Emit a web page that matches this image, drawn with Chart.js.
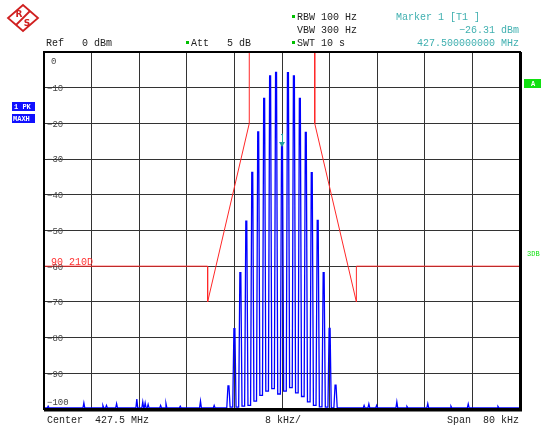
<!DOCTYPE html>
<html>
<head>
<meta charset="utf-8">
<script src="https://cdn.jsdelivr.net/npm/chart.js@4/dist/chart.umd.min.js"></script>
<style>
  html, body { margin: 0; padding: 0; background: #fff; }
  #spec { display: block; }
</style>
</head>
<body>
<canvas id="spec" width="541" height="429"></canvas>
<script>
// offsets from 427.5 MHz in kHz, levels in dBm
const lineOffsets = [-9, -8, -7, -6, -5, -4, -3, -2, -1, 0, 1, 2, 3, 4, 5, 6, 7, 8, 9];
const lineLevels = [-93.5, -77.5, -61.8, -47.4, -33.7, -22.4, -13.0, -6.7, -5.7, -26.31,
                    -5.8, -6.7, -13.0, -22.5, -33.8, -47.2, -61.8, -77.4, -93.3];
// trace level in the gaps beside each line (one more than lines)
const dipLevels = [-99.7, -99.5, -99.5, -99.2, -99, -97.8, -96.2, -95, -94.3, -95.8,
                   -95, -94, -95.5, -96.5, -98, -99, -99.4, -99.5, -99.7, -99.7];
// small spurs on the noise floor
const spurOffsets = [-39.3, -33.3, -30.1, -29.5, -27.8, -24.4, -23.4, -23.0, -22.5, -20.4, -19.5, -17.1, -13.7, -11.4,
                     13.8, 14.6, 15.9, 19.3, 21.0, 24.5, 28.4, 31.3, 36.3];
const spurLevels = [-99.2, -98.3, -99, -99, -98.5, -97.2, -98, -98.3, -98.7, -99, -98.5, -99.2, -97.8, -99,
                    -99, -98.6, -99, -98, -99.3, -98.5, -99.2, -98.6, -99.3];
const noiseFloor = -99.7;

// limit line
const maskOffsets = [-40, -12.5, -12.5, -5.5, -5.5, 5.5, 5.5, 12.5, 12.5, 40];
const maskLevels = [-60, -60, -70, -20, 0, 0, -20, -70, -60, -60];

const markerOffset = 0;
const markerLevel = -26.31;

// build the trace
const trace = [{ x: -40, y: noiseFloor }, { x: 40, y: noiseFloor }];
spurOffsets.forEach((f, i) => {
  trace.push({ x: f - 0.15, y: noiseFloor }, { x: f, y: spurLevels[i] }, { x: f + 0.15, y: noiseFloor });
});
lineOffsets.forEach((f, i) => {
  trace.push({ x: f - 0.28, y: dipLevels[i] }, { x: f - 0.08, y: lineLevels[i] },
             { x: f + 0.08, y: lineLevels[i] }, { x: f + 0.28, y: dipLevels[i + 1] });
});
trace.push({ x: lineOffsets[0] - 0.5, y: noiseFloor }, { x: lineOffsets[lineOffsets.length - 1] + 0.5, y: noiseFloor });
trace.sort((a, b) => a.x - b.x);

const mask = maskOffsets.map((f, i) => ({ x: f, y: maskLevels[i] }));

const MONO = '"Liberation Mono", "DejaVu Sans Mono", monospace';

const decor = {
  id: 'decor',
  afterDatasetsDraw(chart) {
    const ctx = chart.ctx;
    const a = chart.chartArea;
    const xs = chart.scales.x, ys = chart.scales.y;
    ctx.save();

    // frame
    ctx.strokeStyle = '#000';
    ctx.lineWidth = 2;
    ctx.strokeRect(a.left, a.top, a.right - a.left, a.bottom - a.top);
    ctx.lineWidth = 3;
    ctx.beginPath();
    ctx.moveTo(a.right + 0.5, a.top);
    ctx.lineTo(a.right + 0.5, a.bottom + 1);
    ctx.lineTo(a.left, a.bottom + 1);
    ctx.stroke();

    // level labels inside the grid
    ctx.font = '9px ' + MONO;
    ctx.fillStyle = '#444';
    ctx.textBaseline = 'middle';
    ctx.textAlign = 'left';
    ys.ticks.forEach(t => {
      const y = ys.getPixelForValue(t.value);
      if (t.value === 0) {
        ctx.fillText('0', a.left + 7, y + 10);
      } else if (t.value === -100) {
        ctx.fillText('\u2212100', a.left + 3, y - 6);
      } else {
        ctx.fillText('\u2212' + Math.abs(t.value), a.left + 3, y + 1);
      }
    });

    // limit line name
    ctx.font = '10px ' + MONO;
    ctx.fillStyle = '#ff3030';
    ctx.textBaseline = 'alphabetic';
    ctx.fillText('90 210D', a.left + 7, ys.getPixelForValue(-60) - 1);

    // marker 1
    const mx = xs.getPixelForValue(markerOffset), my = ys.getPixelForValue(markerLevel);
    ctx.fillStyle = '#20a0a0';
    ctx.strokeStyle = '#20a0a0';
    ctx.lineWidth = 1;
    ctx.beginPath();
    ctx.moveTo(mx - 3, my - 4);
    ctx.lineTo(mx + 3, my - 4);
    ctx.lineTo(mx, my + 1);
    ctx.closePath();
    ctx.fill();
    ctx.beginPath();
    ctx.moveTo(mx + 0.5, my - 12);
    ctx.lineTo(mx + 0.5, my - 4);
    ctx.moveTo(mx - 1, my - 11);
    ctx.lineTo(mx + 0.5, my - 12);
    ctx.stroke();
    ctx.restore();
  },
  afterDraw(chart) {
    const ctx = chart.ctx;
    ctx.save();
    ctx.textBaseline = 'middle';
    ctx.font = '10px ' + MONO;

    const txt = (s, x, y, color, align) => {
      ctx.fillStyle = color;
      ctx.textAlign = align || 'left';
      ctx.fillText(s, x, y);
    };
    const star = (x, y) => {
      ctx.fillStyle = '#00c000';
      ctx.fillRect(x, y - 2, 3, 3);
    };

    // header
    star(292, 17);
    txt('RBW 100 Hz', 297, 17, '#222');
    txt('VBW 300 Hz', 297, 30, '#222');
    star(292, 43);
    txt('SWT 10 s', 297, 43, '#222');
    txt('Ref   0 dBm', 46, 43, '#222');
    star(186, 43);
    txt('Att   5 dB', 191, 43, '#222');
    txt('Marker 1 [T1 ]', 396, 17, '#40b0b0');
    txt('\u221226.31 dBm', 519, 30, '#40b0b0', 'right');
    txt('427.500000000 MHz', 519, 43, '#40b0b0', 'right');

    // footer
    txt('Center  427.5 MHz', 47, 420, '#222');
    txt('8 kHz/', 283, 420, '#222', 'center');
    txt('Span  80 kHz', 519, 420, '#222', 'right');

    // side labels
    ctx.font = 'bold 7px ' + MONO;
    ctx.fillStyle = '#1010ff';
    ctx.fillRect(12, 102, 23, 9);
    ctx.fillRect(12, 114, 23, 9);
    txt('1 PK', 14, 107, '#fff');
    txt('MAXH', 13, 119, '#fff');
    ctx.fillStyle = '#10e010';
    ctx.fillRect(524, 79, 17, 9);
    txt('A', 533, 84, '#fff', 'center');
    ctx.font = '7px ' + MONO;
    txt('3DB', 527, 254, '#10e010');

    // logo
    ctx.translate(23, 18);
    ctx.strokeStyle = '#d02020';
    ctx.lineWidth = 1.8;
    ctx.beginPath();
    ctx.moveTo(0, -13);
    ctx.lineTo(15, 0);
    ctx.lineTo(0, 13);
    ctx.lineTo(-15, 0);
    ctx.closePath();
    ctx.stroke();
    ctx.beginPath();
    ctx.moveTo(7, -7);
    ctx.lineTo(-7, 7);
    ctx.stroke();
    ctx.fillStyle = '#d02020';
    ctx.font = 'bold 9px "DejaVu Sans", sans-serif';
    ctx.textAlign = 'center';
    ctx.fillText('R', -4, -3);
    ctx.fillText('S', 4, 6);
    ctx.restore();
  }
};

new Chart(document.getElementById('spec'), {
  type: 'line',
  data: {
    datasets: [{
      label: 'Trace 1',
      data: trace,
      borderColor: 'rgb(0, 0, 255)',
      borderWidth: 1.3,
      pointRadius: 0,
      tension: 0,
      fill: false
    },
    {
      label: '90 210D',
      data: mask,
      borderColor: 'rgb(255, 40, 40)',
      borderWidth: 1,
      pointRadius: 0,
      tension: 0,
      fill: false
    }]
  },
  options: {
    responsive: false,
    animation: false,
    events: [],
    layout: { padding: { left: 44, top: 52, right: 21, bottom: 20 } },
    plugins: { legend: { display: false }, tooltip: { enabled: false } },
    scales: {
      x: {
        type: 'linear',
        min: -40,
        max: 40,
        ticks: { display: false, stepSize: 8 },
        grid: { color: '#333', lineWidth: 1, drawTicks: false },
        border: { display: false }
      },
      y: {
        min: -100,
        max: 0,
        ticks: { display: false, stepSize: 10 },
        grid: { color: '#333', lineWidth: 1, drawTicks: false },
        border: { display: false }
      }
    }
  },
  plugins: [decor]
});
</script>
</body>
</html>
